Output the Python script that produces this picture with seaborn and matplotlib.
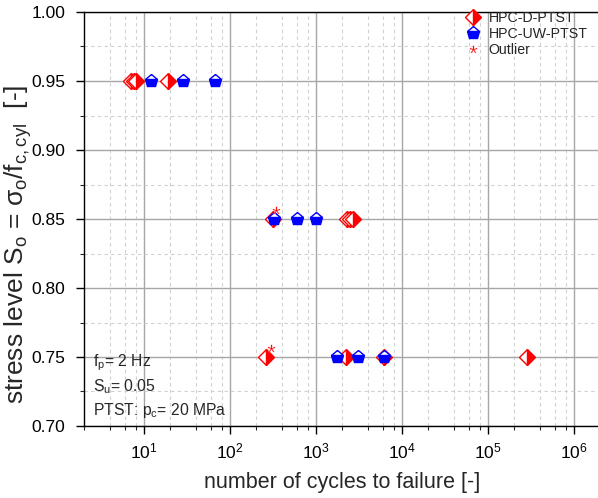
import numpy as np
import pandas as pd
import matplotlib
matplotlib.use('Agg')
import matplotlib.pyplot as plt
import matplotlib.transforms as mtransforms
from matplotlib.ticker import FixedLocator, MultipleLocator, FormatStrFormatter, NullFormatter, LogFormatterSciNotation
import seaborn as sns

# dati
d_cycles = [7.0, 7.6, 8.0, 19, 312, 2300, 2500, 2700, 259, 2200, 6100, 280000]
d_level = [0.95, 0.95, 0.95, 0.95, 0.85, 0.85, 0.85, 0.85, 0.75, 0.75, 0.75, 0.75]

uw_cycles = [12, 28, 67, 320, 595, 990, 1730, 3050, 6100]
uw_level = [0.95, 0.95, 0.95, 0.85, 0.85, 0.85, 0.75, 0.75, 0.75]

out_cycles = [338, 296]
out_level = [0.85, 0.75]

x_major = [1e1, 1e2, 1e3, 1e4, 1e5, 1e6]
labels = ['HPC-D-PTST', 'HPC-UW-PTST', 'Outlier']
info_lines = ['f$_p$= 2 Hz', 'S$_u$= 0.05', 'PTST: p$_c$= 20 MPa']

df_d = pd.DataFrame({'cycles': d_cycles, 'level': d_level})
df_uw = pd.DataFrame({'cycles': uw_cycles, 'level': uw_level})
df_out = pd.DataFrame({'cycles': out_cycles, 'level': out_level})

sns.set_style('white')
plt.rcParams['font.family'] = ['Liberation Sans', 'DejaVu Sans']
plt.rcParams['mathtext.fontset'] = 'custom'
plt.rcParams['mathtext.rm'] = 'Liberation Sans'
plt.rcParams['mathtext.it'] = 'Liberation Sans'
plt.rcParams['mathtext.default'] = 'regular'

fig = plt.figure(figsize=(5.98, 4.98), dpi=100)
ax = fig.add_axes([84 / 598, 72 / 498, 516 / 598, 414 / 498])
ax.set_xscale('log')

sns.lineplot(data=df_d, x='cycles', y='level', ax=ax, estimator=None, sort=False,
             linestyle='', marker='D', markersize=8, color='red', fillstyle='right',
             markerfacecoloralt='white', markeredgecolor='red', markeredgewidth=1.0,
             zorder=3)
sns.lineplot(data=df_uw, x='cycles', y='level', ax=ax, estimator=None, sort=False,
             linestyle='', marker='p', markersize=9.5, color='blue', fillstyle='bottom',
             markerfacecoloralt='white', markeredgecolor='blue', markeredgewidth=1.0,
             zorder=4)
sns.lineplot(data=df_out, x='cycles', y='level', ax=ax, estimator=None, sort=False,
             linestyle='', marker='$*$', markersize=5.5, color='red',
             markeredgewidth=0.2, zorder=5)

lines = ax.get_lines()
# asterisco spostato sopra il punto
shift = mtransforms.ScaledTranslation(0, 9 / 100, fig.dpi_scale_trans)
lines[2].set_transform(ax.transData + shift)

ax.set_xlim(2, 2e6)
ax.set_ylim(0.70, 1.00)

minors = [m * 10 ** e for e in range(0, 7) for m in (2, 4, 6, 8)]
ax.xaxis.set_major_locator(FixedLocator(x_major))
ax.xaxis.set_major_formatter(LogFormatterSciNotation())
ax.xaxis.set_minor_locator(FixedLocator(minors))
ax.xaxis.set_minor_formatter(NullFormatter())
ax.yaxis.set_major_locator(MultipleLocator(0.05))
ax.yaxis.set_minor_locator(MultipleLocator(0.025))
ax.yaxis.set_major_formatter(FormatStrFormatter('%.2f'))

ax.grid(which='major', color='#a6a6a6', linestyle='-', linewidth=1.0)
ax.grid(which='minor', color='#d0d0d0', linestyle=(0, (3, 3)), linewidth=0.8)
ax.set_axisbelow(True)

for s in ax.spines.values():
    s.set_color('black')
    s.set_linewidth(1.0)

ax.tick_params(which='major', direction='out', length=5.5, width=1,
               bottom=True, left=True, top=False, right=False, colors='black')
ax.tick_params(axis='y', which='major', pad=8, labelsize=12.5)
ax.tick_params(axis='x', which='major', pad=6, labelsize=12.5)
ax.tick_params(which='minor', direction='out', length=3, width=0.8,
               bottom=True, left=True, top=False, right=False)

ax.set_xlabel('number of cycles to failure [-]', fontsize=15.5, labelpad=7)
ax.set_ylabel('stress level S$_o$ = σ$_o$/f$_{c,cyl}$  [-]', fontsize=19, va='center')
ax.yaxis.set_label_coords(-0.127, 0.44)

ax.legend(lines, labels, loc='upper left', bbox_to_anchor=(0.729, 1.012),
          frameon=False, fontsize=10.2, handlelength=1.2, handletextpad=0.5,
          labelspacing=0.12, borderaxespad=0.1, borderpad=0.2)

ax.text(0.018, 0.178, '\n'.join(info_lines), transform=ax.transAxes, fontsize=11.3,
        va='top', ha='left', linespacing=1.33)

fig.savefig('out.png', dpi=100)
